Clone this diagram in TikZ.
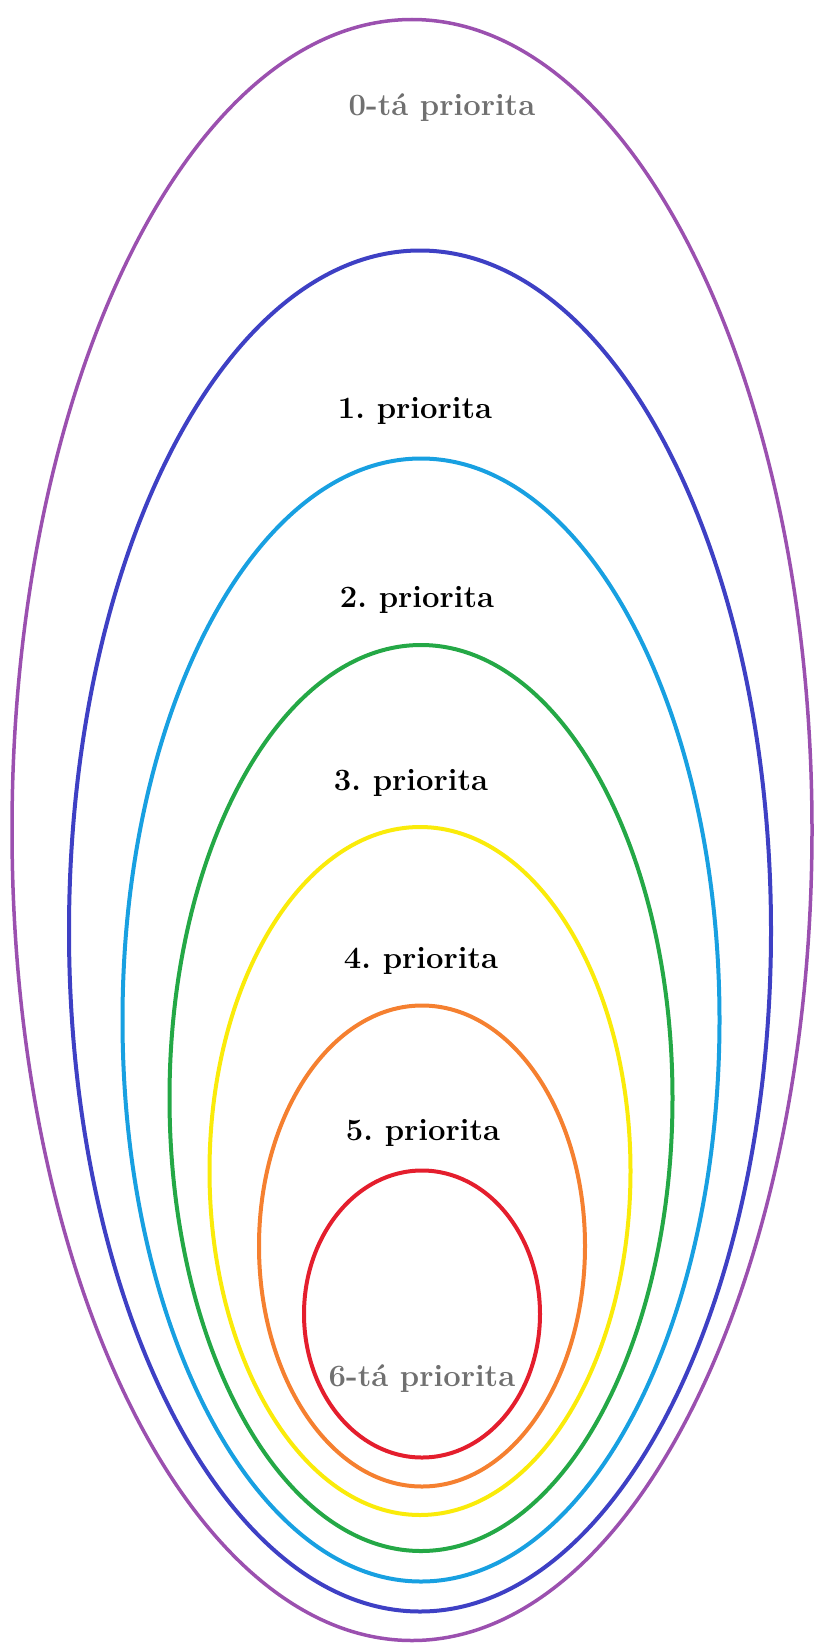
\documentclass[tikz,border=0pt]{standalone}
\usetikzlibrary{shapes.geometric}

\definecolor{ringviolet}{RGB}{155,80,175}
\definecolor{ringblue}{RGB}{62,64,196}
\definecolor{ringsky}{RGB}{24,160,225}
\definecolor{ringgreen}{RGB}{36,168,70}
\definecolor{ringyellow}{RGB}{250,235,10}
\definecolor{ringorange}{RGB}{245,128,48}
\definecolor{ringred}{RGB}{228,30,45}
\definecolor{labelgray}{RGB}{112,112,112}

\frenchspacing

\begin{document}
\begin{tikzpicture}[
        x=1pt, y=-1pt,
        ring/.style={
            draw,
            ellipse,
            inner sep=0pt,
            line width=4pt
        },
        lbl/.style={
            anchor=base,
            inner sep=0pt,
            font=\fontsize{31}{36}\selectfont\bfseries
        },
        faint/.style={
            text=labelgray
        }
    ]
        \useasboundingbox (0,0) rectangle (819,1648);

        % Rings
        \node [ring, draw=ringviolet, line width=3.5pt, minimum width=800pt, minimum height=1621pt] (ring0) at (412,830) {};
        \node [ring, draw=ringblue, minimum width=702pt, minimum height=1361pt] (ring1) at (420,931) {};
        \node [ring, draw=ringsky, minimum width=597pt, minimum height=1123pt] (ring2) at (421,1020) {};
        \node [ring, draw=ringgreen, minimum width=503pt, minimum height=906pt] (ring3) at (421,1098) {};
        \node [ring, draw=ringyellow, minimum width=421pt, minimum height=688pt] (ring4) at (420,1171) {};
        \node [ring, draw=ringorange, minimum width=326pt, minimum height=481pt] (ring5) at (422,1246) {};
        \node [ring, draw=ringred, minimum width=236pt, minimum height=287pt] (ring6) at (422,1314) {};

        % Labels
        \node [lbl, faint] (prio0) at (442,116) {0-tá priorita};
        \node [lbl] (prio1) at (415,418) {1. priorita};
        \node [lbl] (prio2) at (417,607) {2. priorita};
        \node [lbl] (prio3) at (411,790) {3. priorita};
        \node [lbl] (prio4) at (421,968) {4. priorita};
        \node [lbl] (prio5) at (423,1140) {5. priorita};
        \node [lbl, faint] (prio6) at (422,1386) {6-tá priorita};

    \end{tikzpicture}
\end{document}
